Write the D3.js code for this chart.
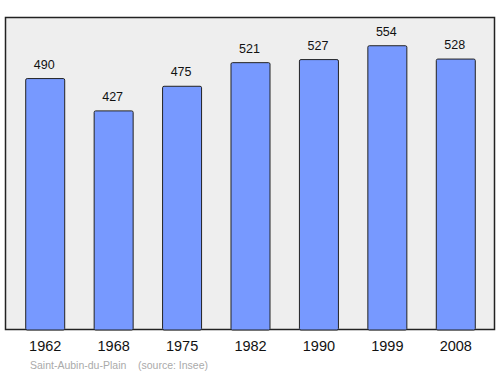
<!DOCTYPE html>
<html>
<head>
<meta charset="utf-8">
<script src="https://cdn.jsdelivr.net/npm/d3@7"></script>
<style>
  body { margin: 0; background: #fff; }
  text { font-family: "Liberation Sans", Arial, sans-serif; }
</style>
</head>
<body>
<div id="chart"></div>
<script>
var years = ["1962", "1968", "1975", "1982", "1990", "1999", "2008"];
var population = [490, 427, 475, 521, 527, 554, 528];

var width = 500,
    height = 374;

var svg = d3.select('#chart').append("svg")
    .attr("width", width)
    .attr("height", height);

// plot frame
svg.append("rect")
    .attr("x", 5.5)
    .attr("y", 17.5)
    .attr("width", 489)
    .attr("height", 312)
    .attr("fill", "#eeeeee")
    .attr("stroke", "#222")
    .attr("stroke-width", 1.5);

var x = d3.scaleBand()
    .domain(years)
    .range([11, 490])
    .paddingInner(0.43)
    .paddingOuter(0.215);

var y = d3.scaleLinear()
    .domain([0, 610])
    .range([330, 17]);

var data = years.map(function(d, i) { return {year: d, value: population[i]}; });

svg.selectAll(".bar")
    .data(data)
    .enter().append("rect")
    .attr("class", "bar")
    .attr("x", function(d) { return x(d.year); })
    .attr("y", function(d) { return y(d.value); })
    .attr("width", x.bandwidth())
    .attr("height", function(d) { return y(0) - y(d.value); })
    .attr("rx", 1.5)
    .attr("fill", "#7799ff")
    .attr("stroke", "#222")
    .attr("stroke-width", 1);

svg.selectAll(".label")
    .data(data)
    .enter().append("text")
    .attr("class", "label")
    .attr("x", function(d) { return x(d.year) + x.bandwidth() / 2 - 1; })
    .attr("y", function(d) { return y(d.value) - 10; })
    .attr("text-anchor", "middle")
    .attr("font-size", 12.5)
    .attr("fill", "#111")
    .text(function(d) { return d.value; });

// year axis, drawn without a domain line
var axis = svg.append("g")
    .attr("transform", "translate(0,330)")
    .call(d3.axisBottom(x).tickSize(0).tickPadding(11));
axis.select(".domain").remove();
axis.selectAll("text")
    .attr("font-size", 14.5)
    .attr("font-family", "Liberation Sans, Arial, sans-serif")
    .attr("fill", "#111");

svg.append("text")
    .attr("x", 30)
    .attr("y", 369)
    .attr("font-size", 10.5)
    .attr("fill", "#aaa")
    .attr("xml:space", "preserve")
    .text("Saint-Aubin-du-Plain    (source: Insee)");
</script>
</body>
</html>
